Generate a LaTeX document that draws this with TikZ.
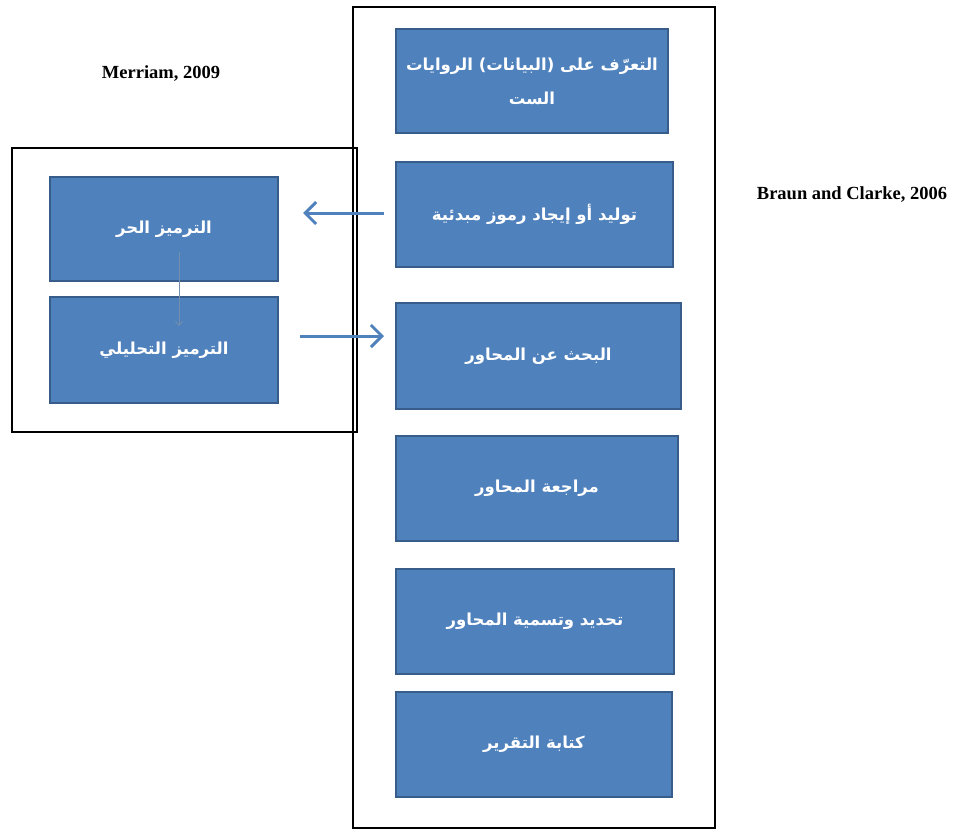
\documentclass[tikz,border=0pt]{standalone}
\usepackage{fontspec}
\setmainfont{Liberation Serif}
\newfontfamily\arabicfont[Script=Arabic]{DejaVu Sans}
\TeXXeTstate=1
\usetikzlibrary{arrows.meta}
\definecolor{boxfill}{HTML}{4F81BD}
\definecolor{boxline}{HTML}{385D8A}
\tikzset{
  stepbox/.style={draw=boxline, line width=2pt, fill=boxfill, text=white, inner sep=0pt,
    font=\arabicfont\bfseries\fontsize{16.5}{34}\selectfont, align=center},
  frame/.style={draw=black, line width=2pt},
  bigarrow/.style={draw=boxfill, line width=3pt, -{Straight Barb[length=11pt,width=22pt,line width=3pt]}},
  thinarrow/.style={draw=boxline!70, line width=0.8pt, -{Straight Barb[length=4pt,width=7pt]}},
  cite/.style={font=\bfseries\fontsize{18.5}{20}\selectfont, inner sep=0pt}
}
\newcommand{\rtl}[1]{\beginR #1\endR}
\begin{document}
\begin{tikzpicture}[x=1pt,y=-1pt]
\useasboundingbox (0,0) rectangle (955,830);
% frames
\draw[frame] (353,7) rectangle (715,828);
\draw[frame] (12,148) rectangle (357,432);
% right column boxes
\node[stepbox, minimum width=272pt, minimum height=104pt] (b1) at (532,81) {\rtl{التعرّف على (البيانات) الروايات}\\\rtl{الست}};
\node[stepbox, minimum width=277pt, minimum height=105pt] (b2) at (534.5,214.5) {\rtl{توليد أو إيجاد رموز مبدئية}};
\node[stepbox, minimum width=285pt, minimum height=106pt] (b3) at (538.5,356) {\rtl{البحث عن المحاور}};
\node[stepbox, minimum width=282pt, minimum height=105pt] (b4) at (537,488.5) {\rtl{مراجعة المحاور}};
\node[stepbox, minimum width=278pt, minimum height=105pt] (b5) at (535,621.5) {\rtl{تحديد  وتسمية المحاور}};
\node[stepbox, minimum width=276pt, minimum height=105pt] (b6) at (534,744.5) {\rtl{كتابة التقرير}};
% left boxes
\node[stepbox, minimum width=228pt, minimum height=104pt] (l1) at (164,229) {\rtl{الترميز الحر}};
\node[stepbox, minimum width=228pt, minimum height=106pt] (l2) at (164,350) {\rtl{الترميز التحليلي}};
% citations
\node[cite] (m) at (161,74) {Merriam, 2009};
\node[cite] (bc) at (852,195) {Braun and Clarke, 2006};
% arrows
\coordinate (a1s) at (384,213);
\coordinate (a1e) at (303,213);
\coordinate (a2s) at (300,336);
\coordinate (a2e) at (384,336);
\draw[bigarrow] (a1s) -- (a1e);
\draw[bigarrow] (a2s) -- (a2e);
\coordinate (ts) at (179,252);
\coordinate (te) at (179,326);
\draw[thinarrow] (ts) -- (te);
\end{tikzpicture}
\end{document}
